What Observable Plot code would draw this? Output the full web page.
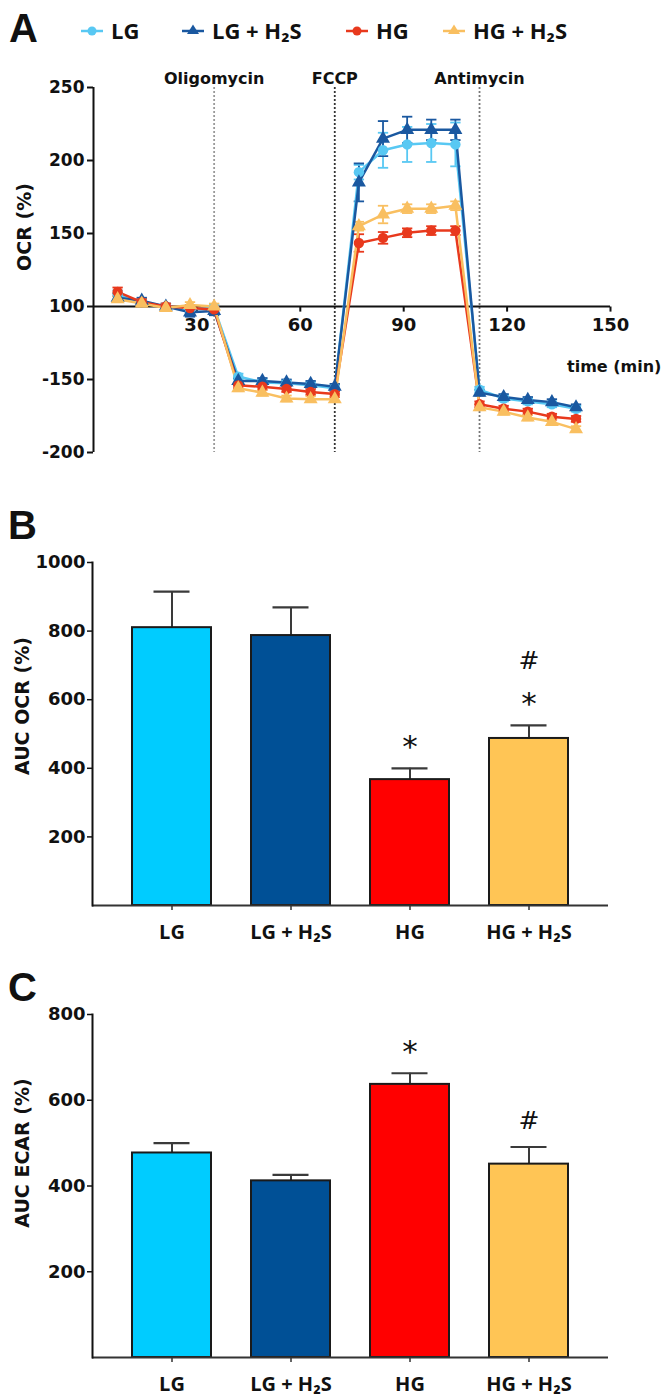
<!DOCTYPE html>
<html><head><meta charset="utf-8">
<script src="https://cdn.jsdelivr.net/npm/d3@7"></script>
<script src="https://cdn.jsdelivr.net/npm/@observablehq/plot@0.6"></script>
<style>
body{margin:0;background:#fff;}
#fig{position:relative;width:670px;height:1400px;overflow:hidden;font-family:"DejaVu Sans",sans-serif;color:#111;}
.abs{position:absolute;}
.letter{font-family:"Liberation Sans",Arial,sans-serif;font-weight:bold;font-size:40px;line-height:40px;}
.ytitle{font-weight:bold;font-size:19px;white-space:nowrap;transform:translate(-50%,-50%) rotate(-90deg);line-height:1;}
.leg{display:flex;align-items:center;font-family:"Open Sans",sans-serif;font-weight:700;font-size:22px;line-height:1;transform:translateY(-50%);}
.leg svg{margin-right:8px;}
.xt{font-weight:bold;font-size:16px;line-height:1;}
</style></head><body><div id="fig"></div>
<script>
// ---------- data ----------
const series = ["LG", "LG + H₂S", "HG", "HG + H₂S"];
const lineColors = ["#58C8F3", "#1A58A0", "#E8391D", "#F9BF60"];
const barColors = ["#00CCFF", "#005096", "#FF0000", "#FFC555"];
const symbols = ["circle", "triangle", "circle", "triangle"];

// Panel A: OCR time course (min)
const times = [7, 14, 21, 28, 35, 42, 49, 56, 63, 70, 77, 84, 91, 98, 105, 112, 119, 126, 133, 140];
const ocrLG    = [108, 103, 100, 98, 99, 52, 48, 47.5, 46, 44, 192, 207, 211, 212, 211, 43, 37, 35, 33, 30];
const ocrLGH2S = [106, 104, 100, 96, 97, 49, 49, 48, 47, 45, 185, 215, 221, 221, 221, 41, 38, 36, 34.5, 31];
const ocrHG    = [110, 103, 100, 99, 98, 46, 45, 43.5, 41.5, 40, 143.5, 147, 150.5, 152, 152, 33, 30, 28, 24.5, 23];
const ocrHGH2S = [105, 102, 99, 101, 100, 44, 41, 37, 36.5, 36.5, 155, 163, 167, 167, 169, 31, 28, 24, 21, 16];
const errLG    = [3, 2, 1, 2, 2, 2, 2, 2, 2, 2, 5, 12, 12, 13, 15, 2, 2, 2, 2, 2];
const errLGH2S = [3, 2, 2, 3, 3, 2, 2, 2, 2, 2, 13, 12, 9, 7, 7, 2, 2, 2, 2, 2];
const errHG    = [3, 2, 2, 2, 2, 2, 2, 2, 2, 2, 6, 4, 3, 3, 3, 2, 2, 2, 2, 2];
const errHGH2S = [2, 2, 2, 2, 2, 2, 2, 2, 2, 2, 3, 6, 3, 3, 3, 2, 2, 2, 2, 2];
const injTimes = [35, 70, 112];
const injLabels = ["Oligomycin", "FCCP", "Antimycin"];
const xTicksA = [30, 60, 90, 120, 150];
const yTicksA = [0, 50, 100, 150, 200, 250];
const yTickLabelsA = ["-200", "-150", "100", "150", "200", "250"];

// Panel B: AUC OCR (%)
const aucOCR = [810, 787, 367, 487];
const aucOCRErr = [105, 82, 33, 38];
const ocrStars = ["", "", "*", "*"];
const ocrHashes = ["", "", "", "#"];
const yTicksB = [200, 400, 600, 800, 1000];

// Panel C: AUC ECAR (%)
const aucECAR = [477, 412, 637, 451];
const aucECARErr = [23, 14, 26, 40];
const ecarStars = ["", "", "*", ""];
const ecarHashes = ["", "", "", "#"];
const yTicksC = [200, 400, 600, 800];

// ---------- build ----------
const fig = document.getElementById("fig");
function addDiv(cls, html, left, top) {
  const d = document.createElement("div");
  d.className = "abs " + cls;
  d.innerHTML = html;
  d.style.left = left + "px";
  d.style.top = top + "px";
  fig.appendChild(d);
  return d;
}

const means = [ocrLG, ocrLGH2S, ocrHG, ocrHGH2S];
const errs = [errLG, errLGH2S, errHG, errHGH2S];
const rowsA = [];
series.forEach((s, k) => times.forEach((t, i) => rowsA.push({s, t, v: means[k][i], e: errs[k][i]})));

const injColors = ["#9a9a9a", "#333333", "#777777"];
const capHalf = 1.5;   // error-bar cap half-width (min)
const tickLen = 3.5;   // x tick length (y units)

const plotA = Plot.plot({
  width: 670, height: 470,
  marginTop: 87, marginBottom: 18, marginLeft: 93, marginRight: 60,
  x: {domain: [0, 150], axis: null},
  y: {domain: [0, 250], label: null},
  color: {domain: series, range: lineColors},
  symbol: {domain: series, range: symbols},
  style: {fontFamily: "DejaVu Sans", fontWeight: "bold", color: "#111", background: "transparent"},
  marks: [
    ...injTimes.map((t, i) => Plot.ruleX([t], {stroke: injColors[i], strokeWidth: 1.8, strokeDasharray: "2,2"})),
    Plot.text(injTimes, {x: d => d, text: (d, i) => injLabels[i], frameAnchor: "top", dy: -15, fontSize: 16, fill: "#111"}),
    Plot.ruleY([100], {stroke: "#111", strokeWidth: 2}),
    Plot.ruleX([0], {stroke: "#111", strokeWidth: 2}),
    Plot.axisY({ticks: yTicksA, tickFormat: d => yTickLabelsA[yTicksA.indexOf(d)], tickSize: 6, tickPadding: 3, fontSize: 17, stroke: "#111", strokeWidth: 2}),
    Plot.link(xTicksA, {x1: d => d, x2: d => d, y1: () => 100, y2: () => 100 - tickLen, stroke: "#111", strokeWidth: 2}),
    Plot.text(xTicksA, {x: d => d, y: () => 100, dy: 19, fontSize: 18, fill: "#111"}),
    Plot.ruleX(rowsA, {x: "t", y1: d => d.v - d.e, y2: d => d.v + d.e, stroke: "s", strokeWidth: 1.8}),
    Plot.link(rowsA, {x1: d => d.t - capHalf, x2: d => d.t + capHalf, y1: d => d.v - d.e, y2: d => d.v - d.e, stroke: "s", strokeWidth: 1.8}),
    Plot.link(rowsA, {x1: d => d.t - capHalf, x2: d => d.t + capHalf, y1: d => d.v + d.e, y2: d => d.v + d.e, stroke: "s", strokeWidth: 1.8}),
    Plot.line(rowsA, {x: "t", y: "v", z: "s", stroke: "s", strokeWidth: 2.5}),
    Plot.dot(rowsA, {x: "t", y: "v", fill: "s", symbol: "s", r: 5.2})
  ]
});
plotA.style.position = "absolute"; plotA.style.left = "0px"; plotA.style.top = "0px";
fig.appendChild(plotA);

function barPanel(values, errsB, stars, hashes, yTicks, yMax, height, mTop, mBottom, hashDy) {
  const rows = series.map((s, i) => ({s, v: values[i], e: errsB[i], star: stars[i], hash: hashes[i]}));
  return Plot.plot({
    width: 670, height,
    marginTop: mTop, marginBottom: mBottom, marginLeft: 92, marginRight: 62,
    x: {domain: series, padding: 0.333, label: null},
    y: {domain: [0, yMax], label: null},
    color: {domain: series, range: barColors},
    style: {fontFamily: "DejaVu Sans", fontWeight: "bold", color: "#111", background: "transparent"},
    marks: [
      Plot.ruleX(rows, {x: "s", y1: "v", y2: d => d.v + d.e, stroke: "#3a3a3a", strokeWidth: 2}),
      Plot.tickY(rows, {x: "s", y: d => d.v + d.e, stroke: "#3a3a3a", strokeWidth: 2.2, insetLeft: 21.5, insetRight: 21.5}),
      Plot.barY(rows, {x: "s", y: "v", fill: "s", stroke: "#1a1a1a", strokeWidth: 2}),
      Plot.text(rows, {x: "s", y: d => d.v + d.e, text: "star", dy: -21, fontSize: 31, fontWeight: "normal", fill: "#111"}),
      Plot.text(rows, {x: "s", y: d => d.v + d.e, text: "hash", dy: hashDy, fontSize: 25, fontWeight: "normal", fill: "#111"}),
      Plot.ruleY([0], {stroke: "#333", strokeWidth: 2}),
      Plot.frame({anchor: "left", stroke: "#111", strokeWidth: 2}),
      Plot.axisY({ticks: yTicks, tickFormat: d => String(d), tickSize: 5, tickPadding: 2, fontSize: 18, stroke: "#111", strokeWidth: 1.5}),
      Plot.axisX({tickSize: 5, tickPadding: 14, fontSize: 20, fontFamily: "Open Sans", fontWeight: 700, stroke: "#333", strokeWidth: 1.5})
    ]
  });
}

const plotB = barPanel(aucOCR, aucOCRErr, ocrStars, ocrHashes, yTicksB, 1000, 480, 92, 45, -64);
plotB.style.position = "absolute"; plotB.style.left = "0px"; plotB.style.top = "470px";
fig.appendChild(plotB);
const plotC = barPanel(aucECAR, aucECARErr, ecarStars, ecarHashes, yTicksC, 800, 450, 64, 43, -26);
plotC.style.position = "absolute"; plotC.style.left = "0px"; plotC.style.top = "950px";
fig.appendChild(plotC);

// panel letters
addDiv("letter", "A", 9, 8);
addDiv("letter", "B", 8, 505);
addDiv("letter", "C", 8, 967);

// axis titles
addDiv("ytitle", "OCR (%)", 24, 227);
addDiv("ytitle", "AUC OCR (%)", 22, 706);
addDiv("ytitle", "AUC ECAR (%)", 22, 1153);
addDiv("xt", "time (min)", 567, 359);

// legend
const legLeft = [81, 182, 346, 443];
series.forEach((s, i) => {
  const mk = symbols[i] === "circle"
    ? `<circle cx="11" cy="10" r="4.5" fill="${lineColors[i]}"/>`
    : `<path d="M11,3.5 L17,13 L5,13 Z" fill="${lineColors[i]}"/>`;
  const sym = `<svg width="22" height="18"><line x1="0" y1="10" x2="22" y2="10" stroke="${lineColors[i]}" stroke-width="2.5"/>${mk}</svg>`;
  addDiv("leg", sym + `<span>${s}</span>`, legLeft[i], 30);
});
</script></body></html>
